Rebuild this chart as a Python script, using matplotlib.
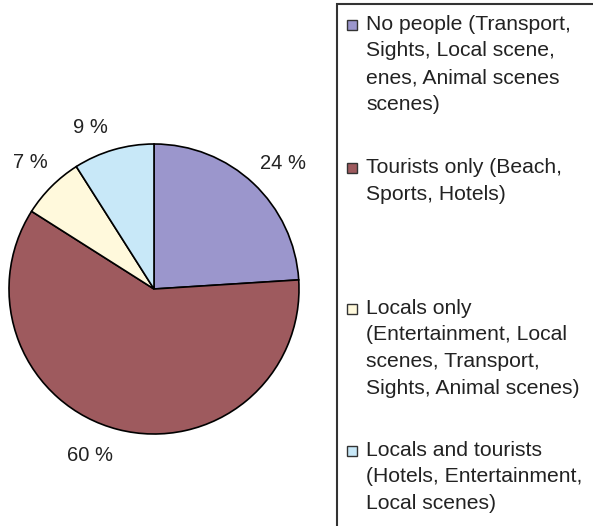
import numpy as np
import matplotlib
matplotlib.use("Agg")
import matplotlib.pyplot as plt
from matplotlib.patches import Rectangle

plt.rcParams['font.family'] = ['Liberation Sans', 'DejaVu Sans']

# data
categories = ["No people", "Tourists only", "Locals only", "Locals and tourists"]
shares = [24, 60, 7, 9]
pct_labels = ["24 %", "60 %", "7 %", "9 %"]
legend_texts = [
    "No people (Transport,\nSights, Local scene,\nenes, Animal scenes\nscenes)",
    "Tourists only (Beach,\nSports, Hotels)",
    "Locals only\n(Entertainment, Local\nscenes, Transport,\nSights, Animal scenes)",
    "Locals and tourists\n(Hotels, Entertainment,\nLocal scenes)",
]
colors = ["#9b96cc", "#9e5a5e", "#fff9dc", "#c8e8f8"]

W, H = 593, 526
fig = plt.figure(figsize=(W / 100, H / 100), dpi=100)
ax = fig.add_axes([0, 0, 1, 1])

# pie, center/radius in pixel units (y measured from bottom)
cx, cy, r = 154, H - 289, 145
wedges, _ = ax.pie(shares, colors=colors, startangle=90, counterclock=False,
                   center=(cx, cy), radius=r,
                   wedgeprops=dict(edgecolor='black', linewidth=1.2))
ax.set_xlim(0, W)
ax.set_ylim(0, H)
ax.set_aspect('equal')
ax.axis('off')

# percentage labels around each wedge
label_dist = [1.24, 1.23, 1.22, 1.20]
label_nudge = [-2.5, -6.7, -0.5, 5.4]
for w, txt, d, n in zip(wedges, pct_labels, label_dist, label_nudge):
    ang = np.deg2rad((w.theta1 + w.theta2) / 2 + n)
    ax.text(cx + d * r * np.cos(ang), cy + d * r * np.sin(ang), txt,
            ha='center', va='center', fontsize=14.5, color='#222222')

# legend box, open to the right and bottom
ax.add_patch(Rectangle((337, -5), 300, H - 4 + 5, facecolor='none',
                       edgecolor='#333333', linewidth=1.5, clip_on=False))
first_baseline = [30, 173, 314, 456]
line_step = 26.5
for col, txt, b in zip(colors, legend_texts, first_baseline):
    ax.add_patch(Rectangle((347, H - b + 0.5), 10, 10, facecolor=col,
                           edgecolor='#333333', linewidth=1.0))
    for i, line in enumerate(txt.split("\n")):
        ax.text(366, H - (b + i * line_step), line, ha='left',
                va='baseline', fontsize=15.2, color='#222222')

fig.savefig("out.png", dpi=100)
